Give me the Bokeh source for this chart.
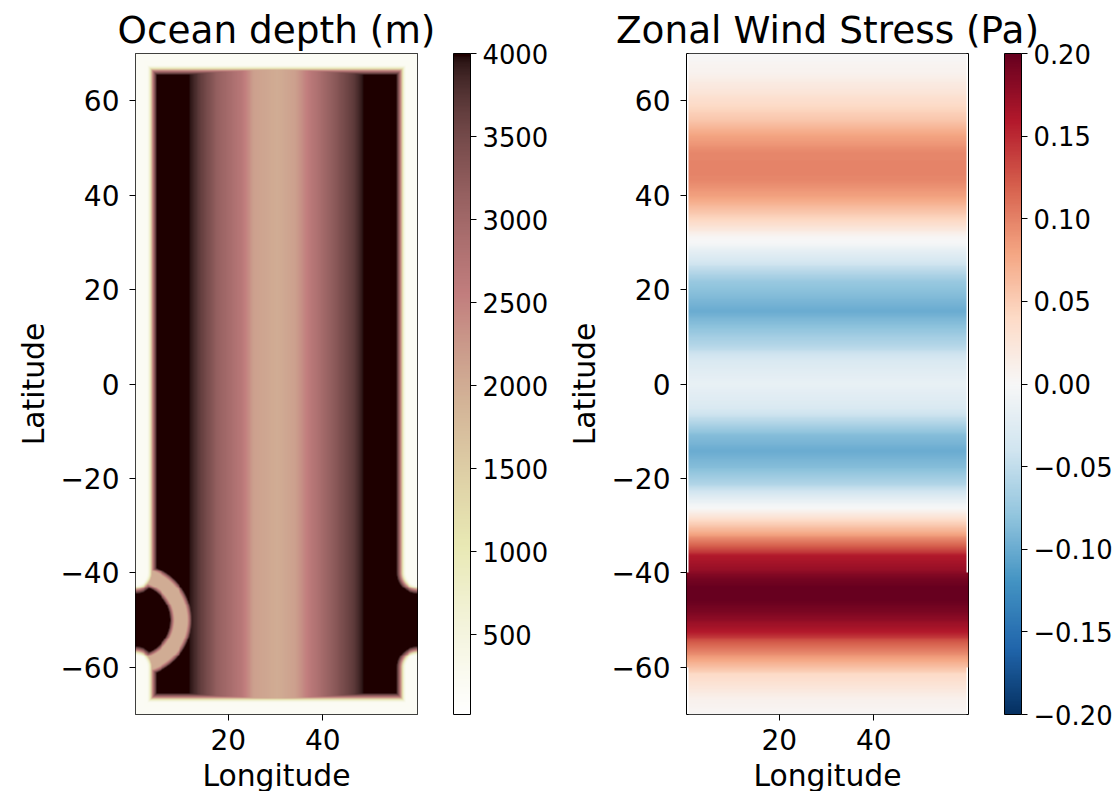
import numpy as np
from bokeh.plotting import figure
from bokeh.layouts import row
from bokeh.models import ColorBar, LinearColorMapper, FixedTicker
from bokeh.embed import file_html
from bokeh.resources import INLINE

# Values
depth_lon = [0.4, 11.6, 14.2, 17.7, 22.7, 25.5, 30.4, 34.0, 37.7, 42.4, 47.0, 48.6, 60.0]
depth_val = [4000, 4000, 3650, 3150, 2700, 2150, 2000, 2150, 2700, 3250, 3750, 4000, 4000]
shelf_dist = [0.0, 2.6, 3.0, 3.3, 3.6, 4.0, 4.45]
shelf_val = [200, 210, 600, 1400, 2400, 3300, 4000]
ring_radius = [7.3, 7.85, 8.2, 10.95, 11.35, 11.9]
ring_val = [4000, 2800, 2000, 2000, 2800, 4000]
passage_lat = [-60.0, -50.0, -40.0]

wind_lat = [-70, -66.6, -61.5, -58.3, -54.9, -52.4, -50.2, -48, -45.5, -43.2, -41, -39.5, -36.5, -34.3, -31.8, -29, -27.6, -26.3,
            -24.2, -21.2, -17.8, -14.2, -10.6, -7.8, -5, 0, 4.9, 8.5, 12.7, 15.5, 21.8, 26, 30, 31, 34.5, 39.5, 43, 45.5, 49, 52.6, 56, 59, 63, 66, 70]
wind_val = [0.002, 0.01, 0.04, 0.08, 0.12, 0.16, 0.175, 0.19, 0.2, 0.2, 0.19, 0.175, 0.16, 0.12, 0.08, 0.04, 0.02, 0.0,
            -0.02, -0.06, -0.085, -0.1, -0.085, -0.055, -0.03, -0.015, -0.03, -0.06, -0.085, -0.1, -0.075, -0.035, -0.002, 0.002, 0.04, 0.08, 0.097, 0.10, 0.097, 0.08, 0.055, 0.04, 0.02, 0.008, 0.0]

depth_ticks = [500, 1000, 1500, 2000, 2500, 3000, 3500, 4000]
wind_ticks = [-0.20, -0.15, -0.10, -0.05, 0.0, 0.05, 0.10, 0.15, 0.20]
rdbu_stops = ["#053061", "#2166ac", "#4393c3", "#92c5de", "#d1e5f0", "#f7f7f7", "#fddbc7", "#f4a582", "#d6604d", "#b2182b", "#67001f"]

X0, X1, Y0, Y1 = 0.38, 60.04, -70.0, 70.0

# colour maps
t = np.linspace(0, 1, 256)
gray = t
hr = np.interp(t, [0, 0.365079, 1], [0.0416, 1, 1])
hg = np.interp(t, [0, 0.365079, 0.746032, 1], [0, 0, 1, 1])
hb = np.interp(t, [0, 0.746032, 1], [0, 0, 1])
def tohex(r, g, b):
    return ["#%02x%02x%02x" % (int(round(a * 255)), int(round(c * 255)), int(round(d * 255))) for a, c, d in zip(r, g, b)]
pink_r = tohex(*[np.sqrt((2 * gray + h) / 3) for h in (hr, hg, hb)])[::-1]
stops = np.array([[int(s[i:i + 2], 16) / 255 for i in (1, 3, 5)] for s in rdbu_stops])
rdbu_r = tohex(*[np.interp(t, np.linspace(0, 1, 11), stops[:, i]) for i in range(3)])

# image grids (display resampling of the values above)
lon = np.arange(X0 + 0.1, X1, 0.2)
lat = np.arange(Y0 + 0.1, Y1, 0.2)
LON, LAT = np.meshgrid(lon, lat)
dx = np.minimum(LON - X0, X1 - LON)
dy = Y1 - np.abs(LAT)
in_passage = (LAT > passage_lat[0]) & (LAT < passage_lat[2])
corner = np.minimum(np.hypot(dx, LAT - passage_lat[0]), np.hypot(dx, LAT - passage_lat[2]))
s = np.where(in_passage, corner, dx)
shelf = np.interp(np.minimum(s, dy), shelf_dist, shelf_val)
rr = np.hypot(LON - X0, LAT - passage_lat[1])
ring = np.interp(rr, ring_radius, ring_val)
depth = np.minimum(np.minimum(np.interp(LON, depth_lon, depth_val), shelf), ring)

wind = np.interp(LAT, wind_lat, wind_val)
strip = (~in_passage) & ((LON - X0 < 0.4) | (X1 - LON < 0.5))
wind[strip] = np.nan

FS_TICK, FS_LAB, FS_TITLE, FS_CB = "28px", "29.8px", "37.4px", "25.8px"

def panel(title, img, low, high, palette, cticks, overrides, width):
    p = figure(width=width, height=791, frame_width=282, frame_height=661,
               x_range=(X0, X1), y_range=(Y0, Y1), output_backend="svg", toolbar_location=None,
               min_border_left=135, min_border_right=width - 135 - 282, min_border_top=53, min_border_bottom=77,
               title=title, x_axis_label="Longitude", y_axis_label="Latitude")
    mapper = LinearColorMapper(palette=palette, low=low, high=high, nan_color="rgba(255,255,255,0)")
    p.image(image=[img], x=X0, y=Y0, dw=X1 - X0, dh=Y1 - Y0, color_mapper=mapper)
    p.grid.visible = False
    p.outline_line_color = "black"
    p.outline_line_width = 1
    p.title.text_font = "DejaVu Sans"
    p.title.text_font_size = FS_TITLE
    p.title.text_font_style = "normal"
    p.title.text_color = "black"
    p.title.align = "center"
    p.title.standoff = 3
    p.xaxis.ticker = FixedTicker(ticks=[20, 40])
    p.yaxis.ticker = FixedTicker(ticks=[-60, -40, -20, 0, 20, 40, 60])
    p.yaxis.major_label_overrides = {-60: "−60", -40: "−40", -20: "−20"}
    for ax in (p.xaxis[0], p.yaxis[0]):
        ax.axis_line_color = None
        ax.major_tick_in = 0
        ax.major_tick_out = 6
        ax.minor_tick_line_color = None
        ax.major_tick_line_color = "black"
        ax.major_label_text_font = "DejaVu Sans"
        ax.major_label_text_font_size = FS_TICK
        ax.major_label_text_color = "black"
        ax.axis_label_text_font = "DejaVu Sans"
        ax.axis_label_text_font_size = FS_LAB
        ax.axis_label_text_font_style = "normal"
        ax.axis_label_text_color = "black"
    p.xaxis[0].major_label_standoff = 8
    p.xaxis[0].axis_label_standoff = 5
    p.yaxis[0].major_label_standoff = 10
    p.yaxis[0].axis_label_standoff = 6
    p.yaxis[0].major_label_orientation = "horizontal"
    cb = ColorBar(color_mapper=mapper, width=17, height=661, location=(36, 0), margin=0, padding=0,
                  ticker=FixedTicker(ticks=cticks), major_label_overrides=overrides,
                  major_tick_in=0, major_tick_out=6, major_tick_line_color="black", minor_tick_line_color=None,
                  bar_line_color="black", label_standoff=6, major_label_text_font="DejaVu Sans",
                  major_label_text_font_size=FS_CB, major_label_text_color="black", background_fill_color=None)
    p.add_layout(cb, "right")
    return p

wind_over = {v: ("−%.2f" % -v if v < 0 else "%.2f" % v) for v in wind_ticks}
depth_over = {v: str(v) for v in depth_ticks}
p1 = panel("Ocean depth (m)", depth, 20, 4000, pink_r, depth_ticks, depth_over, 551)
p2 = panel("Zonal Wind Stress (Pa)", wind, -0.2, 0.2, rdbu_r, wind_ticks, wind_over, 566)
layout = row(p1, p2, spacing=0)
open("out.html", "w").write(file_html(layout, INLINE))
